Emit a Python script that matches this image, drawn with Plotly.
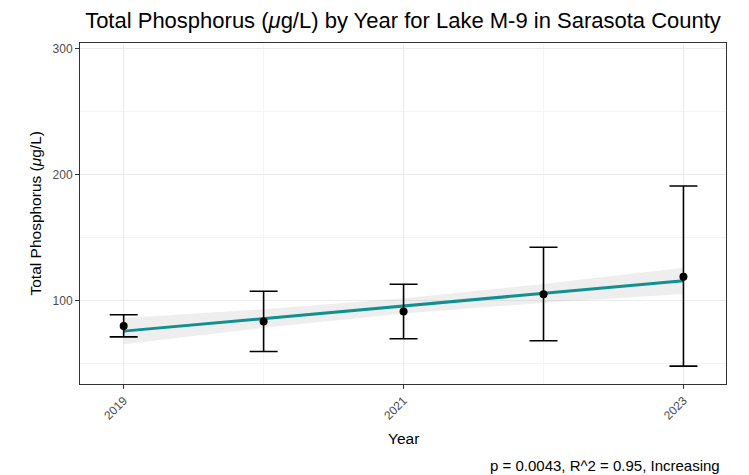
import numpy as np
import plotly.graph_objects as go

years = [2019, 2020, 2021, 2022, 2023]
tp_mean = [79.9, 83.4, 91.3, 105.1, 119.0]
tp_upper = [88.7, 107.4, 113.0, 142.3, 190.9]
tp_lower = [71.2, 59.6, 69.7, 68.1, 48.0]
x_ticks = [2019, 2021, 2023]
y_ticks = [100, 200, 300]
title_text = "Total Phosphorus (<i>μ</i>g/L) by Year for Lake M-9 in Sarasota County"
x_title = "Year"
y_title = "Total Phosphorus (<i>μ</i>g/L)"
caption_text = "p = 0.0043, R^2 = 0.95, Increasing"

x = np.array(years, dtype=float)
y = np.array(tp_mean)
slope, intercept = np.polyfit(x, y, 1)
fit = intercept + slope * x
n = len(x)
resid = y - fit
s = np.sqrt(np.sum(resid ** 2) / (n - 2))
t_crit = 3.182446
se = s * np.sqrt(1 / n + (x - x.mean()) ** 2 / np.sum((x - x.mean()) ** 2))
band_hi = fit + t_crit * se
band_lo = fit - t_crit * se

FONT = "Liberation Sans, Arial, sans-serif"
W, H = 749, 475
L, R, T, B = 80, 23, 43, 91

fig = go.Figure()
fig.add_trace(go.Scatter(
    x=list(x) + list(x[::-1]), y=list(band_hi) + list(band_lo[::-1]),
    fill="toself", fillcolor="rgba(153,153,153,0.17)", line=dict(width=0),
    mode="lines", hoverinfo="skip", showlegend=False))
fig.add_trace(go.Scatter(
    x=list(x), y=list(fit), mode="lines",
    line=dict(color="#11908F", width=3), showlegend=False))
fig.add_trace(go.Scatter(
    x=years, y=tp_mean, mode="markers",
    marker=dict(color="black", size=8),
    error_y=dict(type="data", symmetric=False,
                 array=[u - m for u, m in zip(tp_upper, tp_mean)],
                 arrayminus=[m - l for m, l in zip(tp_mean, tp_lower)],
                 color="black", thickness=1.6, width=14),
    showlegend=False))

axis_common = dict(
    showline=True, linecolor="#333333", linewidth=1, mirror=True,
    ticks="outside", ticklen=4, tickcolor="#333333", tickwidth=1,
    gridcolor="#EBEBEB", gridwidth=1.1, zeroline=False, automargin=False,
    tickfont=dict(family=FONT, size=12, color="#4D4D4D"),
)

fig.update_xaxes(
    range=[2018.688, 2023.304], tickvals=x_ticks, ticktext=[str(v) for v in x_ticks],
    tickangle=-45,
    minor=dict(tickvals=[2020, 2022], showgrid=True, gridcolor="#F4F4F4", gridwidth=0.6, ticks=""),
    **axis_common)
fig.update_yaxes(
    range=[33.8, 304.4], tickvals=y_ticks,
    minor=dict(tickvals=[50, 150, 250], showgrid=True, gridcolor="#F4F4F4", gridwidth=0.6, ticks=""),
    **axis_common)

pw = W - L - R
ph = H - T - B

fig.update_layout(
    width=W, height=H,
    margin=dict(l=L, r=R, t=T, b=B),
    plot_bgcolor="white", paper_bgcolor="white",
    title=dict(text=title_text, x=(L + pw / 2) / W, xanchor="center", xref="container",
               y=1 - 20 / H, yanchor="middle", yref="container",
               font=dict(family=FONT, size=22, color="black")),
    annotations=[
        dict(text=x_title, xref="paper", yref="paper", x=0.5, y=0, xanchor="center",
             yanchor="middle", yshift=-(438 - (H - B)), showarrow=False,
             font=dict(family=FONT, size=15.5, color="black")),
        dict(text=y_title, xref="paper", yref="paper", x=0, y=0.5, xanchor="center",
             yanchor="middle", xshift=-(L - 35), textangle=-90, showarrow=False,
             font=dict(family=FONT, size=15.5, color="black")),
        dict(text=caption_text, xref="paper", yref="paper", x=1.0, y=0,
             xanchor="right", yanchor="middle", yshift=-(465 - (H - B)), xshift=-4,
             showarrow=False, font=dict(family=FONT, size=15, color="black")),
    ],
)

fig.write_html("out.html", config={"displayModeBar": False},
               post_script="document.body.style.margin='0';document.body.style.overflow='hidden';")
